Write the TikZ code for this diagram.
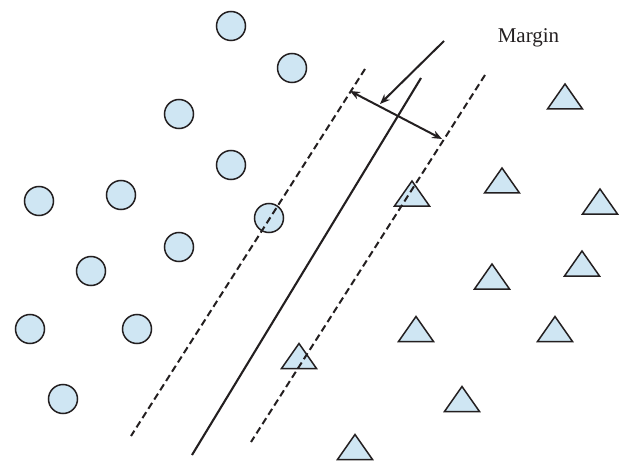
\documentclass[tikz,border=0pt]{standalone}
\usepackage{fontspec}
\setmainfont{Liberation Serif}
\usepackage{tikz}
\usetikzlibrary{arrows.meta}

\definecolor{dotblue}{RGB}{207,230,243}
\definecolor{ink}{RGB}{35,31,32}

\newcommand{\trimark}[1]{\draw[tri] (#1) ++(0,-12.5) -- ++(17.5,25) -- ++(-35,0) -- cycle;}

\begin{document}
\begin{tikzpicture}[x=1pt,y=-1pt,
  dot/.style={circle,draw=ink,fill=dotblue,line width=1.5pt,
              minimum size=29pt,inner sep=0pt},
  tri/.style={draw=ink,fill=dotblue,line width=1.5pt,line join=miter},
  bound/.style={draw=ink,line width=2pt,dash pattern=on 7pt off 4pt},
  sep/.style={draw=ink,line width=2.1pt},
  arrow/.style={draw=ink,line width=2pt,-{Stealth[length=10pt,width=8pt]}},
  twoway/.style={draw=ink,line width=2pt,
                 {Stealth[length=10pt,width=8pt]}-{Stealth[length=10pt,width=8pt]}},
  note/.style={text=ink,font=\fontsize{21}{25}\selectfont,inner sep=0pt}]

\useasboundingbox (0,0) rectangle (626,465);

\node[dot] (c1) at (231,26) {};
\node[dot] (c2) at (292,68) {};
\node[dot] (c3) at (179,114) {};
\node[dot] (c4) at (231,165) {};
\node[dot] (c5) at (39,201) {};
\node[dot] (c6) at (121,195) {};
\node[dot] (c7) at (269,218) {};
\node[dot] (c8) at (179,247) {};
\node[dot] (c9) at (91,271) {};
\node[dot] (c10) at (30,329) {};
\node[dot] (c11) at (137,329) {};
\node[dot] (c12) at (63,399) {};

\coordinate (t1) at (565,96.5);
\coordinate (t2) at (502,180.5);
\coordinate (t3) at (600,201.5);
\coordinate (t4) at (412,193.5);
\coordinate (t5) at (582,263.5);
\coordinate (t6) at (492,276.5);
\coordinate (t7) at (416,329);
\coordinate (t8) at (555,329);
\coordinate (t9) at (299,356);
\coordinate (t10) at (462,399);
\coordinate (t11) at (355,447);
\trimark{t1} \trimark{t2} \trimark{t3} \trimark{t4}
\trimark{t5} \trimark{t6} \trimark{t7} \trimark{t8}
\trimark{t9} \trimark{t10} \trimark{t11}

\coordinate (lt) at (365,69);
\coordinate (lb) at (131,436);
\coordinate (st) at (421,78);
\coordinate (sb) at (192,455);
\coordinate (rt) at (485,75);
\coordinate (rb) at (251,442);

\draw[bound] (lt) -- (lb);
\draw[sep] (st) -- (sb);
\draw[bound] (rt) -- (rb);

\coordinate (mL) at (350,91);
\coordinate (mR) at (442,139);
\coordinate (ptr) at (444,41);
\coordinate (tip) at (380,104);

\draw[twoway] (mL) -- (mR);
\draw[arrow] (ptr) -- (tip);

\node[note,anchor=base] (margin) at (528.5,43) {Margin};
\end{tikzpicture}
\end{document}
